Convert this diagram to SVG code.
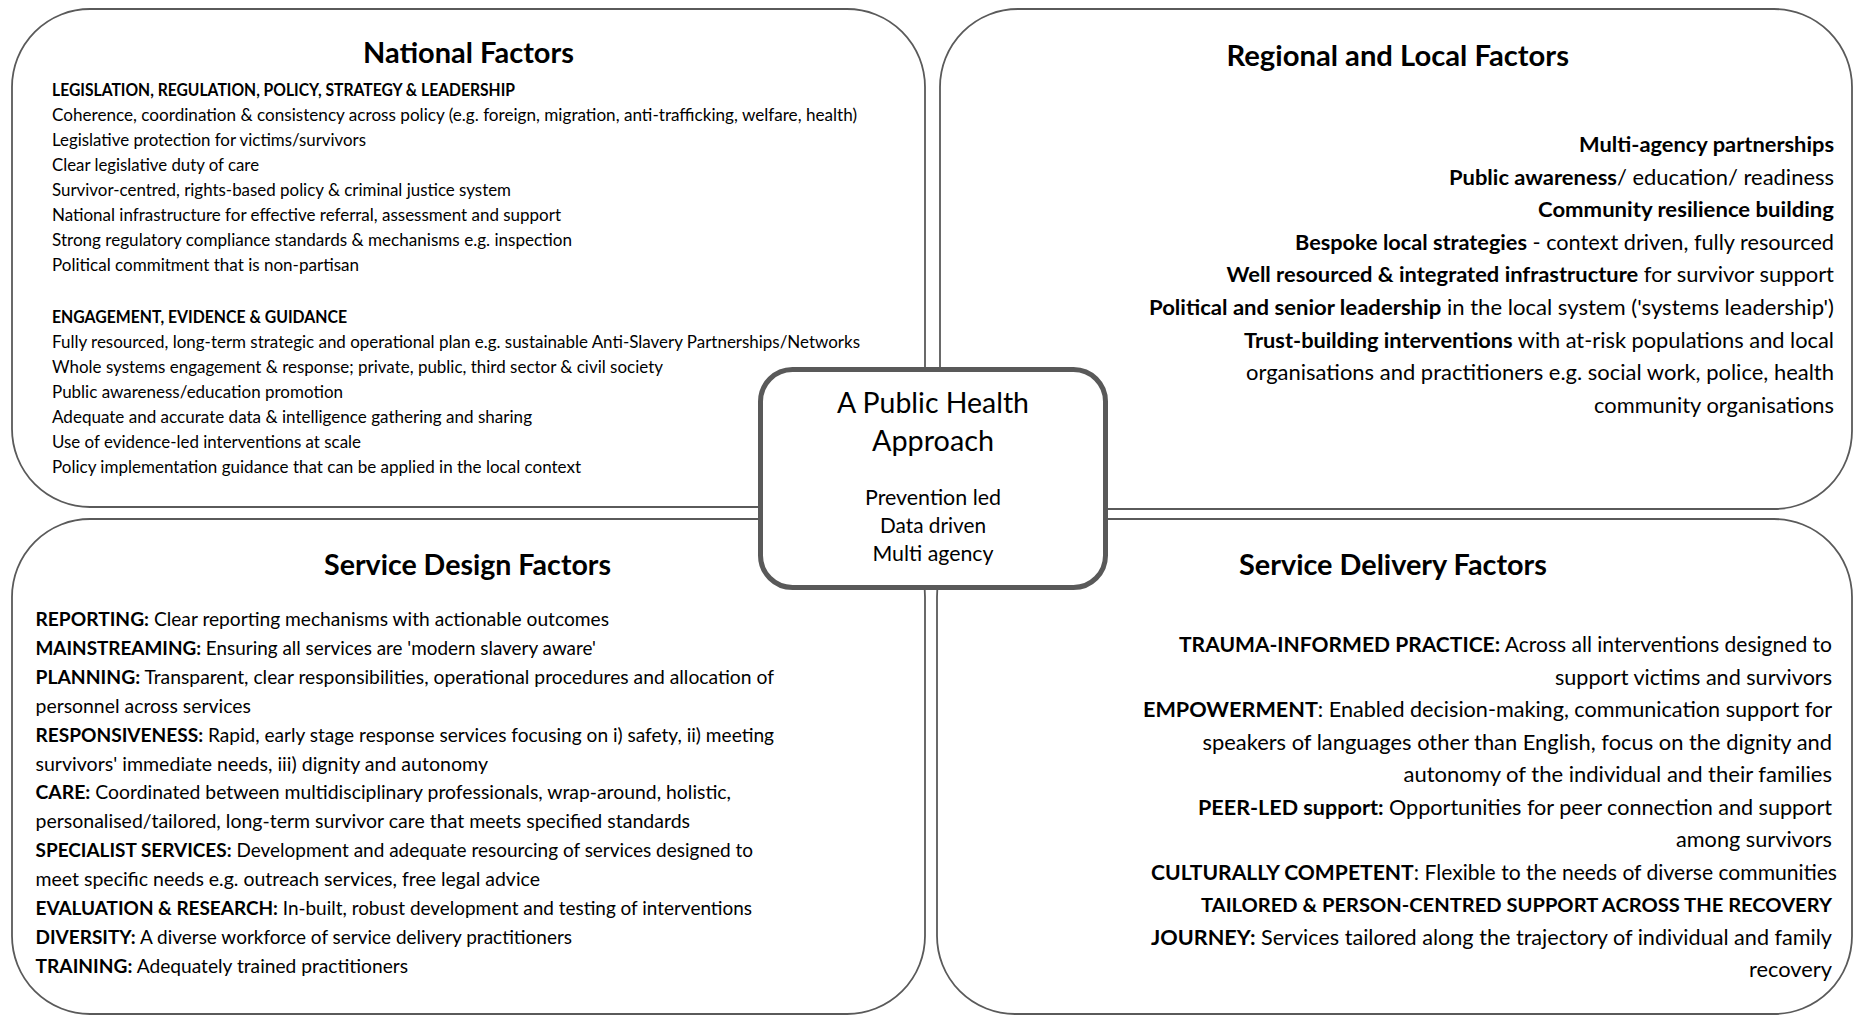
<svg xmlns="http://www.w3.org/2000/svg" width="1854" height="1016" viewBox="0 0 1854 1016">
<style>
text{font-family:Lato,"Open Sans",sans-serif;fill:#000}
.h{font-weight:700;font-size:28.5px}
.n{font-size:16.6px}
.d{font-size:19px}
.r{font-size:21px;text-anchor:end}
.sm{font-size:19.5px}
.c1{font-size:28.5px;text-anchor:middle}
.c2{font-size:21px;text-anchor:middle}
.b{font-weight:700}
.box{fill:#fff;stroke:#5a5a5a;stroke-width:1.8}
.core{fill:#fff;stroke:#595959;stroke-width:5}
</style>
<rect width="1854" height="1016" fill="#fff"/>
<g id="connectors"/>
<g id="national">
<rect class="box" x="12" y="9" width="913" height="498" rx="78"/>
<text class="h" x="363" y="63" textLength="211" lengthAdjust="spacingAndGlyphs">National Factors</text>
<text class="n b" x="52" y="96" textLength="463" lengthAdjust="spacingAndGlyphs">LEGISLATION, REGULATION, POLICY, STRATEGY &amp; LEADERSHIP</text>
<text class="n" x="52" y="121" textLength="805" lengthAdjust="spacingAndGlyphs">Coherence, coordination &amp; consistency across policy (e.g. foreign, migration, anti-trafficking, welfare, health)</text>
<text class="n" x="52" y="146" textLength="314" lengthAdjust="spacingAndGlyphs">Legislative protection for victims/survivors</text>
<text class="n" x="52" y="171" textLength="207" lengthAdjust="spacingAndGlyphs">Clear legislative duty of care</text>
<text class="n" x="52" y="196" textLength="459" lengthAdjust="spacingAndGlyphs">Survivor-centred, rights-based policy &amp; criminal justice system</text>
<text class="n" x="52" y="221" textLength="509" lengthAdjust="spacingAndGlyphs">National infrastructure for effective referral, assessment and support</text>
<text class="n" x="52" y="246" textLength="520" lengthAdjust="spacingAndGlyphs">Strong regulatory compliance standards &amp; mechanisms e.g. inspection</text>
<text class="n" x="52" y="271" textLength="307" lengthAdjust="spacingAndGlyphs">Political commitment that is non-partisan</text>
<text class="n b" x="52" y="323" textLength="295" lengthAdjust="spacingAndGlyphs">ENGAGEMENT, EVIDENCE &amp; GUIDANCE</text>
<text class="n" x="52" y="348" textLength="808" lengthAdjust="spacingAndGlyphs">Fully resourced, long-term strategic and operational plan e.g. sustainable Anti-Slavery Partnerships/Networks</text>
<text class="n" x="52" y="373" textLength="611" lengthAdjust="spacingAndGlyphs">Whole systems engagement &amp; response; private, public, third sector &amp; civil society</text>
<text class="n" x="52" y="398" textLength="291" lengthAdjust="spacingAndGlyphs">Public awareness/education promotion</text>
<text class="n" x="52" y="423" textLength="480" lengthAdjust="spacingAndGlyphs">Adequate and accurate data &amp; intelligence gathering and sharing</text>
<text class="n" x="52" y="448" textLength="309" lengthAdjust="spacingAndGlyphs">Use of evidence-led interventions at scale</text>
<text class="n" x="52" y="473" textLength="529" lengthAdjust="spacingAndGlyphs">Policy implementation guidance that can be applied in the local context</text>
</g>
<g id="regional">
<rect class="box" x="940" y="9" width="912" height="500" rx="78"/>
<text class="h" x="1226.5" y="65.5" textLength="342.5" lengthAdjust="spacingAndGlyphs">Regional and Local Factors</text>
<text class="r b" x="1834" y="152" textLength="255" lengthAdjust="spacingAndGlyphs">Multi-agency partnerships</text>
<text class="r" x="1834" y="184.6" textLength="385" lengthAdjust="spacingAndGlyphs"><tspan class="b">Public awareness</tspan>/ education/ readiness</text>
<text class="r b" x="1834" y="217.2" textLength="296" lengthAdjust="spacingAndGlyphs">Community resilience building</text>
<text class="r" x="1834" y="249.8" textLength="539" lengthAdjust="spacingAndGlyphs"><tspan class="b">Bespoke local strategies</tspan> - context driven, fully resourced</text>
<text class="r" x="1834" y="282.4" textLength="607.5" lengthAdjust="spacingAndGlyphs"><tspan class="b">Well resourced &amp; integrated infrastructure</tspan> for survivor support</text>
<text class="r" x="1834" y="315" textLength="685" lengthAdjust="spacingAndGlyphs"><tspan class="b">Political and senior leadership</tspan> in the local system ('systems leadership')</text>
<text class="r" x="1834" y="347.6" textLength="590" lengthAdjust="spacingAndGlyphs"><tspan class="b">Trust-building interventions</tspan> with at-risk populations and local</text>
<text class="r" x="1834" y="380.2" textLength="588" lengthAdjust="spacingAndGlyphs">organisations and practitioners e.g. social work, police, health</text>
<text class="r" x="1834" y="412.8" textLength="240" lengthAdjust="spacingAndGlyphs">community organisations</text>
</g>
<g id="design">
<rect class="box" x="12" y="519" width="913" height="495" rx="78"/>
<text class="h" x="324" y="575" textLength="287" lengthAdjust="spacingAndGlyphs">Service Design Factors</text>
<text class="d" x="35.5" y="626" textLength="573.5" lengthAdjust="spacingAndGlyphs"><tspan class="b">REPORTING:</tspan> Clear reporting mechanisms with actionable outcomes</text>
<text class="d" x="35.5" y="654.9" textLength="560.5" lengthAdjust="spacingAndGlyphs"><tspan class="b">MAINSTREAMING:</tspan> Ensuring all services are 'modern slavery aware'</text>
<text class="d" x="35.5" y="683.8" textLength="738.5" lengthAdjust="spacingAndGlyphs"><tspan class="b">PLANNING:</tspan> Transparent, clear responsibilities, operational procedures and allocation of</text>
<text class="d" x="35.5" y="712.7" textLength="215.5" lengthAdjust="spacingAndGlyphs">personnel across services</text>
<text class="d" x="35.5" y="741.6" textLength="738.5" lengthAdjust="spacingAndGlyphs"><tspan class="b">RESPONSIVENESS:</tspan> Rapid, early stage response services focusing on i) safety, ii) meeting</text>
<text class="d" x="35.5" y="770.5" textLength="452.5" lengthAdjust="spacingAndGlyphs">survivors' immediate needs, iii) dignity and autonomy</text>
<text class="d" x="35.5" y="799.4" textLength="695.5" lengthAdjust="spacingAndGlyphs"><tspan class="b">CARE:</tspan> Coordinated between multidisciplinary professionals, wrap-around, holistic,</text>
<text class="d" x="35.5" y="828.3" textLength="654.5" lengthAdjust="spacingAndGlyphs">personalised/tailored, long-term survivor care that meets specified standards</text>
<text class="d" x="35.5" y="857.2" textLength="717.5" lengthAdjust="spacingAndGlyphs"><tspan class="b">SPECIALIST SERVICES:</tspan> Development and adequate resourcing of services designed to</text>
<text class="d" x="35.5" y="886.1" textLength="504.5" lengthAdjust="spacingAndGlyphs">meet specific needs e.g. outreach services, free legal advice</text>
<text class="d" x="35.5" y="915" textLength="716.5" lengthAdjust="spacingAndGlyphs"><tspan class="b">EVALUATION &amp; RESEARCH:</tspan> In-built, robust development and testing of interventions</text>
<text class="d" x="35.5" y="943.9" textLength="536.5" lengthAdjust="spacingAndGlyphs"><tspan class="b">DIVERSITY:</tspan> A diverse workforce of service delivery practitioners</text>
<text class="d" x="35.5" y="972.8" textLength="372.5" lengthAdjust="spacingAndGlyphs"><tspan class="b">TRAINING:</tspan> Adequately trained practitioners</text>
</g>
<g id="delivery">
<rect class="box" x="937" y="519" width="915" height="495" rx="78"/>
<text class="h" x="1239" y="575" textLength="308" lengthAdjust="spacingAndGlyphs">Service Delivery Factors</text>
<text class="r" x="1832" y="652" textLength="653" lengthAdjust="spacingAndGlyphs"><tspan class="b">TRAUMA-INFORMED PRACTICE:</tspan> Across all interventions designed to</text>
<text class="r" x="1832" y="684.5" textLength="277" lengthAdjust="spacingAndGlyphs">support victims and survivors</text>
<text class="r" x="1832" y="717" textLength="689" lengthAdjust="spacingAndGlyphs"><tspan class="b">EMPOWERMENT</tspan>: Enabled decision-making, communication support for</text>
<text class="r" x="1832" y="749.5" textLength="629.5" lengthAdjust="spacingAndGlyphs">speakers of languages other than English, focus on the dignity and</text>
<text class="r" x="1832" y="782" textLength="428.5" lengthAdjust="spacingAndGlyphs">autonomy of the individual and their families</text>
<text class="r" x="1832" y="814.5" textLength="634" lengthAdjust="spacingAndGlyphs"><tspan class="b">PEER-LED support:</tspan> Opportunities for peer connection and support</text>
<text class="r" x="1832" y="847" textLength="156" lengthAdjust="spacingAndGlyphs">among survivors</text>
<text class="r" x="1837" y="879.5" textLength="686" lengthAdjust="spacingAndGlyphs"><tspan class="b">CULTURALLY COMPETENT</tspan>: Flexible to the needs of diverse communities</text>
<text class="r b sm" x="1832" y="912" textLength="631" lengthAdjust="spacingAndGlyphs">TAILORED &amp; PERSON-CENTRED SUPPORT ACROSS THE RECOVERY</text>
<text class="r" x="1832" y="944.5" textLength="681" lengthAdjust="spacingAndGlyphs"><tspan class="b">JOURNEY:</tspan> Services tailored along the trajectory of individual and family</text>
<text class="r" x="1832" y="977" textLength="83" lengthAdjust="spacingAndGlyphs">recovery</text>
</g>
<g id="core">
<rect class="core" x="760.5" y="369.5" width="345" height="218" rx="32"/>
<text class="c1" x="933" y="413" textLength="192" lengthAdjust="spacingAndGlyphs">A Public Health</text>
<text class="c1" x="933" y="451" textLength="122" lengthAdjust="spacingAndGlyphs">Approach</text>
<text class="c2" x="933" y="504.5" textLength="136" lengthAdjust="spacingAndGlyphs">Prevention led</text>
<text class="c2" x="933" y="532.5" textLength="106" lengthAdjust="spacingAndGlyphs">Data driven</text>
<text class="c2" x="933" y="560.5" textLength="121" lengthAdjust="spacingAndGlyphs">Multi agency</text>
</g>
</svg>
